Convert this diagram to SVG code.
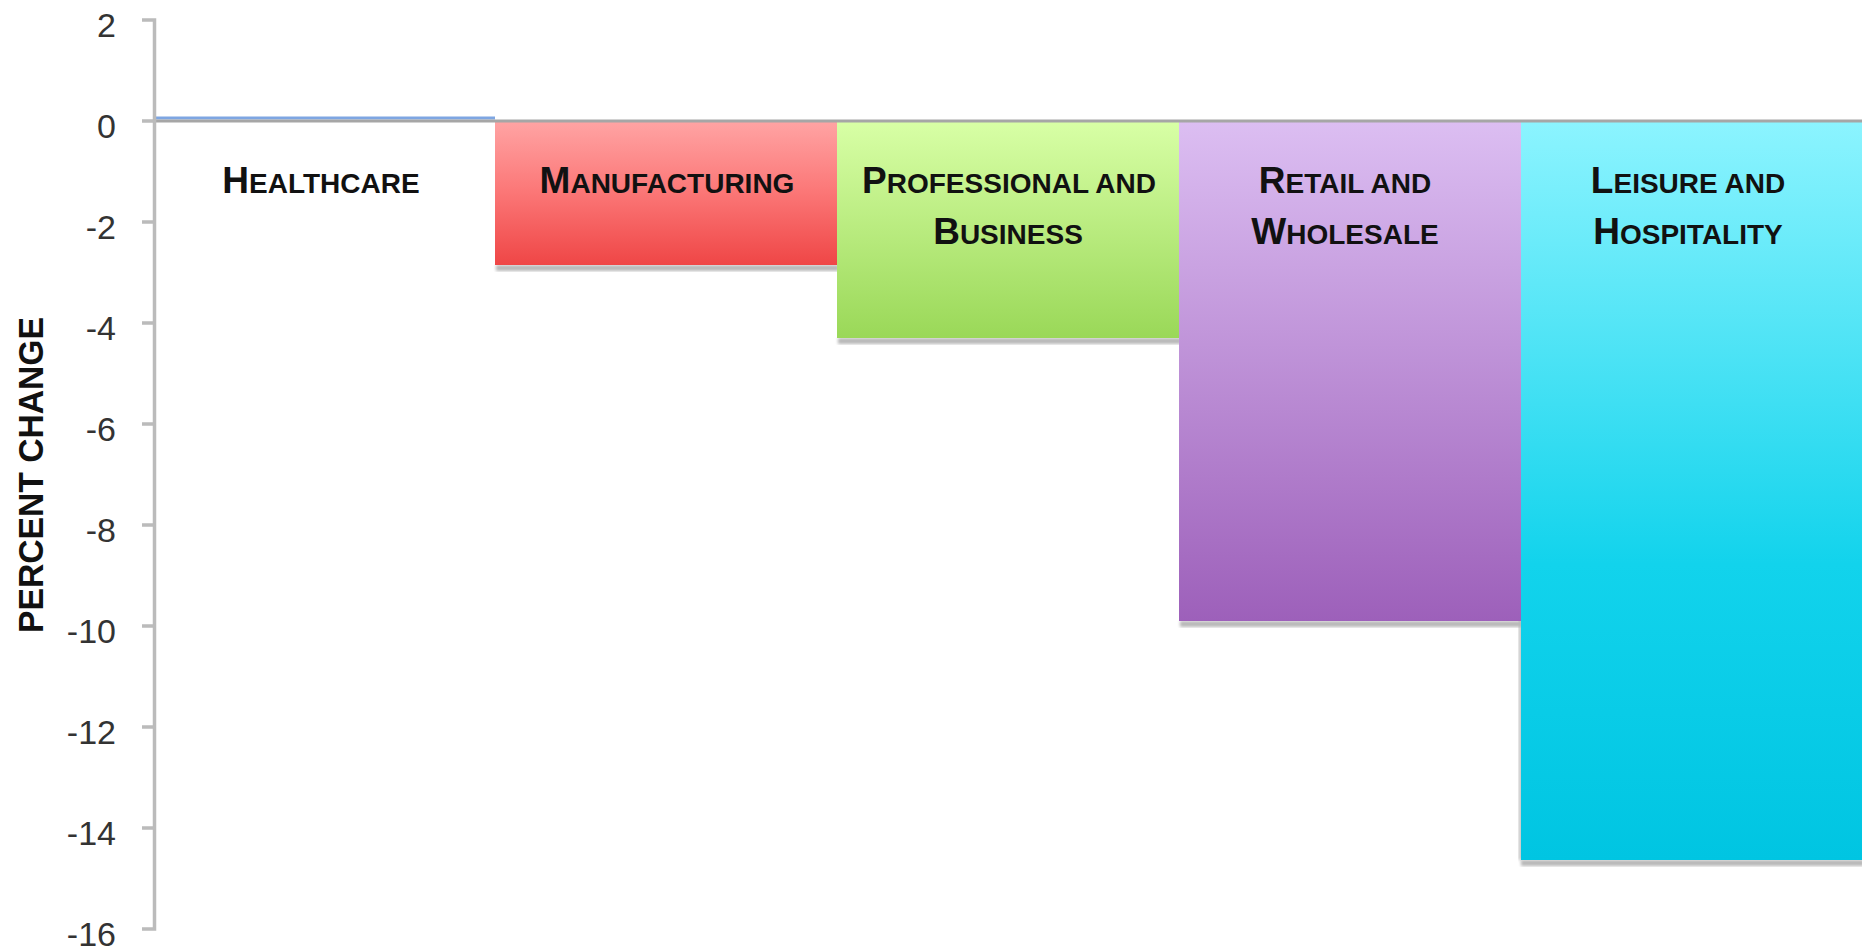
<svg xmlns="http://www.w3.org/2000/svg" width="1862" height="950" viewBox="0 0 1862 950">
  <defs>
    <linearGradient id="gRed" x1="0" y1="0" x2="0" y2="1">
      <stop offset="0" stop-color="#FFA4A4"/>
      <stop offset="0.5" stop-color="#FB7676"/>
      <stop offset="1" stop-color="#EF4646"/>
    </linearGradient>
    <linearGradient id="gGreen" x1="0" y1="0" x2="0" y2="1">
      <stop offset="0" stop-color="#D8FFA6"/>
      <stop offset="1" stop-color="#9AD858"/>
    </linearGradient>
    <linearGradient id="gPurple" x1="0" y1="0" x2="0" y2="1">
      <stop offset="0" stop-color="#DCBEF2"/>
      <stop offset="1" stop-color="#9D60BA"/>
    </linearGradient>
    <linearGradient id="gCyan" x1="0" y1="0" x2="0" y2="1">
      <stop offset="0" stop-color="#8CF4FF"/>
      <stop offset="0.6" stop-color="#12D3EC"/>
      <stop offset="1" stop-color="#00C5E2"/>
    </linearGradient>
    <filter id="blur" x="-5%" y="-5%" width="110%" height="110%">
      <feGaussianBlur stdDeviation="1.5"/>
    </filter>
  </defs>
  <style>
    .tick { font-family: "Liberation Sans", Arial, sans-serif; font-size: 34px; fill: #333; text-anchor: end; }
    .cat { font-family: "Liberation Sans", Arial, sans-serif; font-weight: bold; fill: #111; text-anchor: middle; font-size: 28px; }
    .big { font-size: 37px; }
    .ytitle { font-family: "Liberation Sans", Arial, sans-serif; font-weight: bold; font-size: 35px; fill: #111; text-anchor: middle; }
    .axis { stroke: #BBBBBB; stroke-width: 3.5; fill: none; }
    .shadow { fill: #B8B8B8; filter: url(#blur); }
  </style>
  <rect width="1862" height="950" fill="#FFFFFF"/>

  <!-- shadows -->
  <g id="shadows">
    <rect class="shadow" x="496" y="265" width="343" height="6"/>
    <rect class="shadow" x="838" y="338" width="343" height="6"/>
    <rect class="shadow" x="1180" y="621" width="343" height="6"/>
    <rect class="shadow" x="1519" y="300" width="3" height="560"/>
    <rect class="shadow" x="1521" y="860" width="343" height="6"/>
  </g>

  <!-- bars -->
  <g id="healthcare">
    <rect x="156" y="116.5" width="339" height="3" fill="#7EA6E2"/>
    <text class="cat" x="321" y="193"><tspan class="big">H</tspan>EALTHCARE</text>
  </g>
  <g id="manufacturing">
    <rect x="495" y="121" width="342" height="144" fill="url(#gRed)"/>
    <text class="cat" x="667" y="193"><tspan class="big">M</tspan>ANUFACTURING</text>
  </g>
  <g id="professional">
    <rect x="837" y="121" width="342" height="217" fill="url(#gGreen)"/>
    <text class="cat" x="1009" y="193"><tspan class="big">P</tspan>ROFESSIONAL AND</text>
    <text class="cat" x="1008" y="244"><tspan class="big">B</tspan>USINESS</text>
  </g>
  <g id="retail">
    <rect x="1179" y="121" width="342" height="500" fill="url(#gPurple)"/>
    <text class="cat" x="1345" y="193"><tspan class="big">R</tspan>ETAIL AND</text>
    <text class="cat" x="1345" y="244"><tspan class="big">W</tspan>HOLESALE</text>
  </g>
  <g id="leisure">
    <rect x="1521" y="121" width="342" height="739" fill="url(#gCyan)"/>
    <text class="cat" x="1688" y="193"><tspan class="big">L</tspan>EISURE AND</text>
    <text class="cat" x="1688" y="244"><tspan class="big">H</tspan>OSPITALITY</text>
  </g>

  <!-- axes -->
  <g id="axis">
    <line x1="154" y1="121" x2="1862" y2="121" stroke="#A6A6A6" stroke-width="3"/>
    <path class="axis" d="M142,20 H154.5 V929 H142"/>
    <path class="axis" d="M142,121 H154 M142,222 H154 M142,323 H154 M142,424 H154 M142,525 H154 M142,626 H154 M142,727 H154 M142,828 H154"/>
    <text class="tick" x="116" y="37">2</text>
    <text class="tick" x="116" y="138">0</text>
    <text class="tick" x="116" y="239">-2</text>
    <text class="tick" x="116" y="340">-4</text>
    <text class="tick" x="116" y="441">-6</text>
    <text class="tick" x="116" y="542">-8</text>
    <text class="tick" x="116" y="643">-10</text>
    <text class="tick" x="116" y="744">-12</text>
    <text class="tick" x="116" y="845">-14</text>
    <text class="tick" x="116" y="946">-16</text>
    <text class="ytitle" transform="translate(43,475) rotate(-90)" textLength="316" lengthAdjust="spacingAndGlyphs">PERCENT CHANGE</text>
  </g>
</svg>
